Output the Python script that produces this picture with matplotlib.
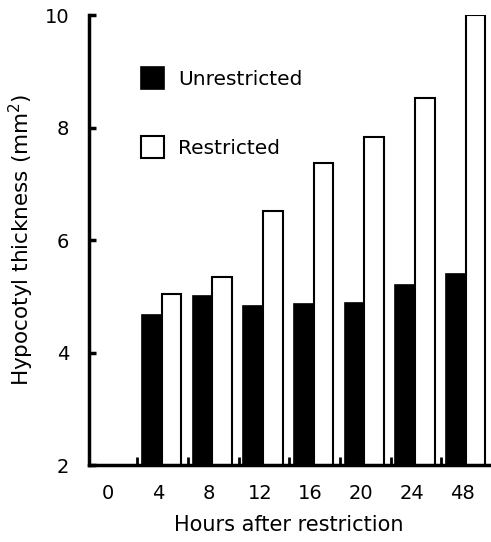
import numpy as np
import matplotlib
matplotlib.use('Agg')
import matplotlib.pyplot as plt

### Data
hours = ['0', '4', '8', '12', '16', '20', '24', '48']
unrestricted = [np.nan, 4.66, 5.00, 4.83, 4.86, 4.89, 5.21, 5.39]
restricted = [np.nan, 5.04, 5.34, 6.51, 7.38, 7.83, 8.52, 10.0]

plt.rcParams['font.family'] = ['DejaVu Sans']

fig = plt.figure(figsize=(4.91, 5.42), dpi=100)
ax = fig.add_axes([0.181, 0.142, 0.815, 0.830])

x = np.arange(len(hours))
w = 0.39
ax.bar(x + 0.06 - w / 2, unrestricted, width=w, color='black', edgecolor='black', linewidth=1.2,
       label='Unrestricted')
ax.bar(x + 0.06 + w / 2, restricted, width=w, color='white', edgecolor='black', linewidth=1.5,
       label='Restricted')

ax.set_ylim(2, 10)
ax.set_xlim(-0.375, 7.52)
ax.set_yticks([2, 4, 6, 8, 10])
ax.set_xticks(x)
ax.set_xticklabels(hours)
ax.set_xticks(x[:-1] + 0.58, minor=True)

for side in ['top', 'right']:
    ax.spines[side].set_visible(False)
for side in ['left', 'bottom']:
    ax.spines[side].set_linewidth(2.5)

ax.tick_params(axis='y', direction='in', length=5, width=2.5, labelsize=14, pad=14)
ax.tick_params(axis='x', which='major', length=0, labelsize=14, pad=14)
ax.tick_params(axis='x', which='minor', direction='in', length=6, width=2)

ax.set_ylabel('Hypocotyl thickness (mm$^2$)', fontsize=15.5, labelpad=6)
ax.set_xlabel('Hours after restriction', fontsize=15, labelpad=8)

ax.legend(loc='upper left', bbox_to_anchor=(0.085, 0.925), frameon=False, fontsize=14.5,
          handlelength=1.15, handleheight=1.3, labelspacing=2.35, handletextpad=0.7)

fig.savefig('out.png', dpi=100)
